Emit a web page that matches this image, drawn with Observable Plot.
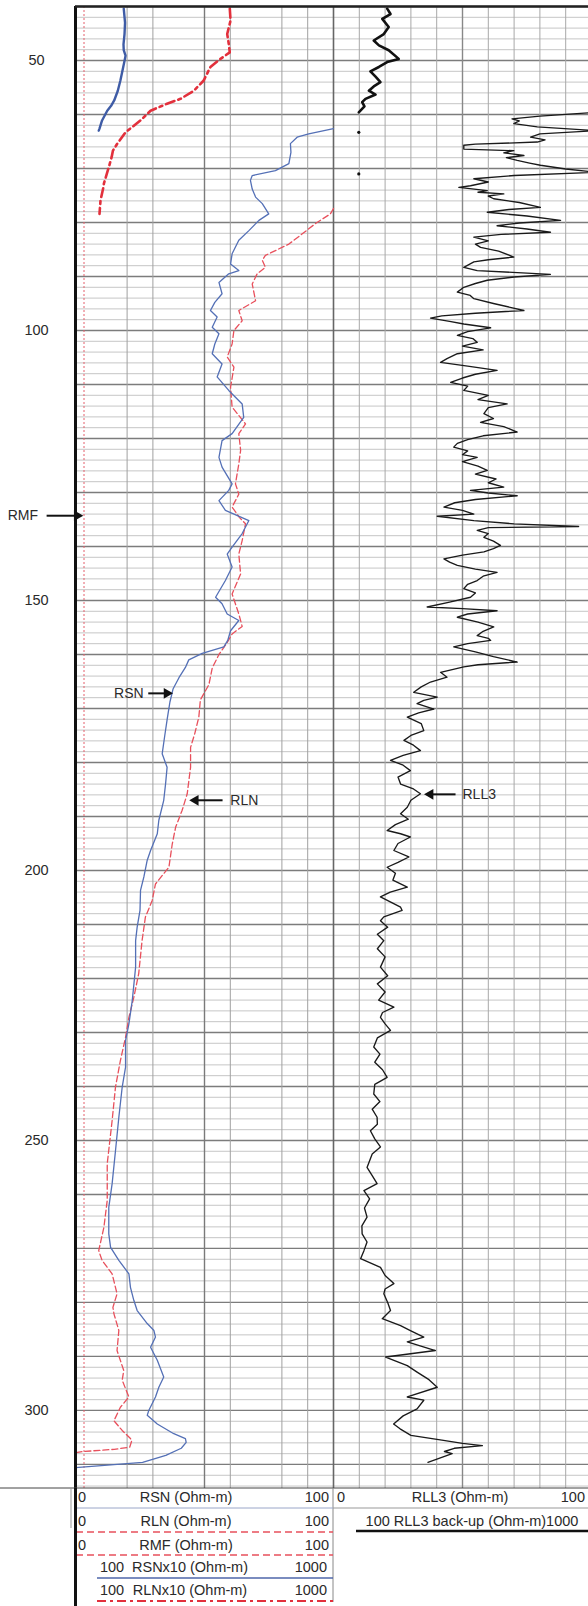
<!DOCTYPE html>
<html><head><meta charset="utf-8">
<script src="https://cdn.jsdelivr.net/npm/d3@7"></script>
<script src="https://cdn.jsdelivr.net/npm/@observablehq/plot@0.6"></script>
<style>
body{margin:0;background:#fff;font-family:"Liberation Sans",Arial,sans-serif;}
#wrap{position:relative;width:588px;height:1606px;overflow:hidden;background:#fff;}
#wrap svg.plot{position:absolute;left:0;top:0;}
.lg{position:absolute;font-size:14.5px;color:#2a2a2a;line-height:1;white-space:nowrap;}
</style></head><body><div id="wrap"></div>
<script>
// ---------- data ----------
const depthTicks = [50, 100, 150, 200, 250, 300];
const track1Grid = [20, 30, 50, 60, 80, 90];
const track2Grid = [10, 20, 30, 40, 50, 60, 70, 80, 90];
const rmfValue = 3.3;

// RSN (upper run, thick blue)
const rsnUpperDepth = [40.4,43,45.1,47,48.1,49.1,50.3,51.2,53.7,55.6,57.4,58.4,59.3,61.1,62.6,63.0];
const rsnUpperValue = [18.7,19.2,19.0,18.6,18.7,19.4,18.9,18.5,17.4,16.4,15.0,13.8,12.3,10.3,9.3,9.0];

// RLN x10 (upper run, dash-dot red)
const rlnUpperDepth = [40.4,42.6,45.1,46.9,48.5,49.7,51.2,53.7,55.6,57.1,58.0,59.3,61.1,63.3,65.4,66.7,67.9,69.8,70.4,72.8,73.5,75.9,78.4];
const rlnUpperValue = [59.8,60.1,58.8,59.4,59.8,56.2,52.3,49.7,45.9,40.7,35.5,29.1,25.2,19.4,16.2,14.5,14.0,12.9,12.5,11.0,10.8,9.7,9.3];

// RSN main (thin blue)
const rsnDepth = [62.6,63.6,64.2,65.4,67,69.1,70.4,71.3,72.2,73.8,75.3,76.5,78.4,79.6,81.5,83.3,85.8,87.7,88.9,89.5,91.1,93.2,94.8,96.3,97.5,99.4,100.6,102.5,104.3,106.2,108.6,111.1,113.6,116.1,119.1,120.4,123.5,125.3,128.4,129.6,131.5,133.3,135.2,137.6,140.1,141.4,143.8,146.3,149.4,150.6,152.5,153.7,155.6,157.4,158.6,159.8,161.0,162.4,164.3,166.4,168.8,171.8,175.0,178.4,180.9,184,187,190.7,193.2,196.3,198.1,201.2,203.7,207.4,210.5,213,217.9,224.1,228.4,231.5,236.4,240.1,245.7,251.9,258,262.4,267.3,269.8,272.2,274.7,277.2,279.6,281.5,283.9,285.2,286.4,288.3,290.7,293.8,295.7,297.5,300,300.9,302.5,304.3,305.2,305.9,307,308.3,309.6,310.2,310.6];
const rsnValue = [100,90.4,85.9,83.3,83.5,82.7,77.5,68.5,67.8,68.5,69.8,72.4,74.9,71.1,67.2,63.3,60.7,60.1,63.3,59.4,55.6,56.8,54,52.3,54.9,53.0,55.6,54.0,53.0,56.8,54.9,59.4,64.6,65.2,60.7,56.8,55.6,56.8,60.7,59.4,55.6,58.1,67.2,64.6,60.7,58.8,60.7,58.1,54.3,56.8,58.8,63.3,60.1,59.0,57.5,49.1,43.9,42.6,40.1,37.8,36.6,35.6,34.6,33.6,35.5,34.9,34.2,32.3,31.7,29.1,27.8,26.5,25.2,25.0,23.9,23.3,23.3,22.0,20.7,19.4,19.4,18.1,16.8,15.5,14.2,12.9,12.9,13.6,16.8,20.7,21.3,22.6,23.9,27.8,30.4,31.0,29.1,31.7,34.2,32.3,31.0,28.4,27.8,31.7,38.1,42.6,42.9,41,35,26,10,0];

// RLN main (thin dashed red)
const rlnDepth = [77.4,78.4,80.2,82.1,84,86.1,87.0,88.3,89.5,91.4,94.5,96.3,98.2,100,102.5,104.9,106.8,110.5,114.2,117.3,119.1,122.2,124.7,128.4,130.3,132.7,134.6,135.8,138.9,141.4,145.1,148.8,152.5,154.8,156.2,157.8,160.0,162.5,165.6,168.4,171.6,174.7,177.2,180.9,185.8,188.9,192,195.1,199.4,202.5,205.6,208.6,213,219.1,223.5,227.2,230.9,235.2,240.1,246.3,254.3,261.1,266.1,270.4,272.2,274.7,278.4,280.9,282.1,285.2,288.9,292.6,294.4,297.5,299.4,301.9,303.7,305.2,305.6,306.8,307.2,307.6,307.8];
const rlnValue = [100,98.8,93.0,87.9,82.7,73.6,72.4,73.6,70.4,68.5,69.8,63.3,64.6,61.4,60.7,58.8,61.4,60.1,60.7,65.9,63.3,64.0,63.3,62.0,63.3,60.7,63.5,65.9,64.6,63.3,64.0,60.7,63.3,64.6,60.7,58.8,55.6,53.0,51.7,48.4,47.8,46.2,44.6,44.6,43.3,41.3,38.8,37.5,36.2,31.0,29.7,27.1,25.8,24.5,22.6,20.7,19.4,17.4,15.5,14.2,12.3,12.3,11.0,9.0,10.3,14.2,16.1,14.5,14.9,16.8,16.1,18.7,18.1,20.7,17.4,14.9,18.1,21.3,21.8,21.0,15,3,0];

// RLL3 (upper run, thick black)
const rll3UpperDepth = [40.4,41.4,42.3,43.8,45.1,46.3,47.2,48.1,49.7,50.3,51.2,52.0,53.0,54.0,54.8,55.6,56.3,57.1,57.7,58.5,59.6];
const rll3UpperValue = [20.8,22.1,18.9,21.4,19.5,15.6,17.6,21.4,25.3,20.8,17.6,14.3,16.3,18.2,15.6,13.7,16.3,12.4,11.1,12.0,9.8];
const rll3DotDepth = [63.3, 71.0];
const rll3DotValue = [9.8, 9.8];

// RLL3 main (thin black)
const rll3Depth = [59.6,60.3,60.8,61.2,61.7,62.3,63.0,63.6,64.2,64.7,65.1,65.5,65.7,66.4,66.7,67.1,67.6,68.0,68.5,69.0,69.4,70.1,70.7,71.3,71.9,72.5,73.2,73.5,74.1,74.4,74.7,75.1,75.6,76.3,77.2,77.6,78.1,78.8,79.6,80.1,80.6,81.2,81.8,82.2,82.7,83.4,84.0,84.6,85.3,86.4,86.9,87.3,88.3,88.9,89.6,90.1,90.7,91.3,92.0,92.9,93.5,94.1,95.0,96.3,96.8,97.3,97.7,98.3,98.8,99.5,100.2,100.9,101.5,102.2,102.9,103.6,104.3,105.2,105.9,106.6,107.4,108.1,108.8,109.6,110.3,111.1,112.0,112.8,113.6,114.3,115.4,116.3,117.0,117.8,118.8,119.5,120.2,120.9,121.6,122.3,123.0,123.5,124.3,125.1,125.9,126.6,127.5,128.2,129.0,129.6,130.1,130.6,131.3,131.9,132.7,133.3,134.0,134.4,135.2,135.8,136.3,136.5,137.0,137.6,138.3,139.0,139.8,140.4,141.0,141.6,142.3,142.9,143.5,144.2,144.8,145.5,146.3,147.0,147.8,148.6,149.4,150.3,151.2,151.5,151.9,152.5,153.1,154.0,154.9,155.7,156.5,157.0,157.4,158.0,158.6,159.5,160.4,161.4,161.9,162.3,163.3,164.2,165.1,166.0,167.0,167.9,168.5,169.1,170.1,170.8,171.6,172.8,174.1,175.0,175.9,176.8,177.8,178.7,179.6,180.5,181.5,182.7,184.0,184.9,185.8,187.0,188.3,189.5,190.5,191.5,192.6,193.2,193.8,195.0,196.3,197.5,198.5,199.4,200.5,201.8,203.1,204.0,204.9,205.8,206.8,207.4,208.6,209.3,210.5,211.8,213.0,214.5,216.0,217.9,219.5,221.0,222.5,224.0,225.3,226.3,227.2,228.4,229.6,231.0,232.7,234.0,235.5,236.9,238.3,239.6,241.4,242.8,244.2,245.7,247.0,248.2,249.7,251.2,252.5,255.0,256.5,258.0,259.3,260.8,262.5,264.2,265.8,267.3,268.8,270.4,271.9,273.5,275.0,276.5,277.5,278.4,280.0,281.5,283.0,284.3,285.2,286.4,287.3,288.9,290.1,291.7,292.9,294.3,295.7,297.5,298.1,299.7,301.0,302.5,303.4,304.6,305.5,306.1,306.5,307.0,307.6,308.0,308.6,309.6];
const rll3Value = [102,80,69.2,72,69.9,79,102,80,76.4,82,79,55,50.5,50.5,69.9,66,73.8,67,71.2,76,80.2,90,102,70,54.4,60,53.1,48.6,59.6,56,66,60,62.1,72,80.2,68,59.6,75,88,72,63.4,75,84.1,65,54.4,60,55,57,64,69.9,60,54.4,50.5,55.7,84.1,70,59.6,55,50.5,48,53,54.4,62,73.8,55,42,37.6,45,50.5,60.9,52,48,54,55.7,50,58,48,44,41.5,52,63.4,55,50,45.4,52,50.5,60,56,67.3,60,58.3,62,57,66,71.2,58,52,48,46.6,52,50,55.7,50,56,59.6,55,63,60,66,53.1,60,71.2,55,47,42.8,50,54.4,40.2,54.4,70,95,60,55.7,60,58.3,62,64.7,62,58.3,50,42.8,45,48,55,63.4,58,55.7,52,50.5,55,53.1,45,36.3,50,63.4,52,48,56,62.1,58,55.7,60,60.9,52,46.6,55,62,71.2,56,50.5,41.5,44,37.6,34,31.1,40.2,35,32.4,38.9,33,28.6,34,35,30,27.3,31,33.7,27,22.1,27,29.8,25,26,31,33.7,30,28.6,26,29,24,20.8,26,29.8,25,23.4,29.2,25,20.8,24,23,28.6,22,18.2,22,26,26.6,19.5,18.2,21,17,19.5,17,20,18.2,21,17,20,17.5,23.4,19,18.2,20,22.1,17,15.6,18,16,19,20.8,16,15.6,18,15,16.9,17,14.3,16,18.2,15,13,15,16.9,11.8,14,12,13,11,11.1,13,11.8,10.5,18.2,20,23.4,20,19.5,21,22.1,18.9,26,29.8,35,28.6,39.5,20.2,28.6,32.4,37,40.2,28.6,35,32.4,27,23.3,25.8,30,42,50,57.7,46.8,43,46,42.5,36.6];

// annotations (labels at depth, in track units)
const annoLabels = ["RMF", "RSN", "RLN", "RLL3"];
const annoDepth = [134.3, 167.2, 187, 185.9];
const annoTextX = [-14.5, 26.4, 60, 150];
const annoTextAnchor = ["end", "end", "start", "start"];
const annoArrowFrom = [-11.2, 28.2, 57, 147.3];
const annoArrowTo = [0.6, 35.4, 46.5, 137.5];

// ---------- build ----------
const series = (depths, values, track) => depths.map((d, i) => ({depth: d, value: values[i], track}));
const xOf = d => (d.track === 2 ? 100 + d.value : d.value);

const rsnUpper = series(rsnUpperDepth, rsnUpperValue, 1);
const rlnUpper = series(rlnUpperDepth, rlnUpperValue, 1);
const rsn = series(rsnDepth, rsnValue, 1);
const rln = series(rlnDepth, rlnValue, 1);
const rll3Upper = series(rll3UpperDepth, rll3UpperValue, 2);
const rll3Dots = series(rll3DotDepth, rll3DotValue, 2);
const rll3 = series(rll3Depth, rll3Value, 2);
const annos = annoLabels.map((t, i) => ({t, depth: annoDepth[i], tx: annoTextX[i], anchor: annoTextAnchor[i], x1: annoArrowFrom[i], x2: annoArrowTo[i]}));

const plotBottom = 1488;
const chart = Plot.plot({
  width: 588, height: plotBottom,
  marginTop: 6, marginBottom: 0, marginLeft: 75, marginRight: 0,
  style: {fontFamily: '"Liberation Sans", Arial, sans-serif', background: "transparent", overflow: "visible"},
  x: {type: "linear", domain: [0, 200], range: [75, 591], axis: null},
  y: {type: "linear", domain: [40, 314.45], range: [6, plotBottom]},
  marks: [
    Plot.ruleY(d3.range(40, 314.5, 2), {y: d => d, stroke: "#c6c6c6", strokeWidth: 1}),
    Plot.ruleY(d3.range(40, 314.5, 10), {y: d => d, stroke: "#7c7c7c", strokeWidth: 1.3}),
    Plot.ruleX(track1Grid, {x: d => d, stroke: "#a0a0a0", strokeWidth: 1}),
    Plot.ruleX(track2Grid, {x: d => 100 + d, stroke: d => d === 50 ? "#888" : "#a8a8a8", strokeWidth: d => d === 50 ? 1.4 : 1}),
    Plot.ruleX([50], {x: d => d, stroke: "#7a7a7a", strokeWidth: 1.4}),
    Plot.ruleX([rmfValue], {x: d => d, stroke: "#e4606c", strokeWidth: 1, strokeDasharray: "2,2"}),
    Plot.ruleX([100], {x: d => d, stroke: "#666", strokeWidth: 1.6}),
    Plot.line(rlnUpper, {x: xOf, y: "depth", stroke: "#e2303c", strokeWidth: 2.6, strokeDasharray: "9,4,3,4"}),
    Plot.line(rsnUpper, {x: xOf, y: "depth", stroke: "#3f5ca6", strokeWidth: 2.4}),
    Plot.line(rln, {x: xOf, y: "depth", stroke: "#e8505c", strokeWidth: 1.3, strokeDasharray: "6,3"}),
    Plot.line(rsn, {x: xOf, y: "depth", stroke: "#5470b6", strokeWidth: 1.3}),
    Plot.line(rll3Upper, {x: xOf, y: "depth", stroke: "#111", strokeWidth: 2.6}),
    Plot.dot(rll3Dots, {x: xOf, y: "depth", r: 1.6, fill: "#111", stroke: null}),
    Plot.line(rll3, {x: xOf, y: "depth", stroke: "#1a1a1a", strokeWidth: 1.35}),
    Plot.ruleX([0], {x: d => d, stroke: "#111", strokeWidth: 3}),
    Plot.ruleY([40], {y: d => d, stroke: "#222", strokeWidth: 2.5}),
    Plot.axisY({ticks: depthTicks, anchor: "left", tickSize: 0, tickPadding: 39, textAnchor: "middle", fontSize: 14.5, fill: "#2a2a2a", label: null}),
    Plot.link(annos, {x1: "x1", x2: "x2", y1: "depth", y2: "depth", stroke: "#111", strokeWidth: 2}),
    Plot.dot(annos, {x: "x2", y: "depth", symbol: "triangle", r: 4, rotate: d => d.x2 > d.x1 ? 90 : -90, fill: "#111", stroke: null}),
    Plot.text(annos.filter(d => d.anchor === "end"), {x: "tx", y: "depth", text: "t", textAnchor: "end", fontSize: 14, fill: "#2a2a2a"}),
    Plot.text(annos.filter(d => d.anchor === "start"), {x: "tx", y: "depth", text: "t", textAnchor: "start", fontSize: 14, fill: "#2a2a2a"})
  ]
});
chart.classList.add("plot");
const wrap = document.getElementById("wrap");
wrap.appendChild(chart);

// ---------- legend below the plot ----------
const lsvg = d3.select(wrap).append("svg")
  .attr("width", 588).attr("height", 1606)
  .style("position", "absolute").style("left", 0).style("top", 0).style("pointer-events", "none");
const L = (x1, y1, x2, y2, stroke, w, dash) => lsvg.append("line")
  .attr("x1", x1).attr("y1", y1).attr("x2", x2).attr("y2", y2)
  .attr("stroke", stroke).attr("stroke-width", w).attr("stroke-dasharray", dash || null);
const b = plotBottom;
L(0, b, 588, b, "#444", 1);
L(71, b, 71, b + 40, "#999", 1);
L(333, b, 333, b + 114, "#888", 1);
L(76, b + 20, 333, b + 20, "#9aa6c8", 1);
L(333, b + 20, 588, b + 20, "#999", 1);
L(76, b + 44, 333, b + 44, "#e8505c", 1.5, "7,4");
L(356, b + 43, 588, b + 43, "#111", 2.6);
L(76, b + 67, 333, b + 67, "#e8505c", 1.5, "7,4");
L(97, b + 90, 333, b + 90, "#4e66aa", 1.6);
L(97, b + 113, 333, b + 113, "#e2303c", 2, "9,4,3,4");
L(75.5, b, 75.5, 1606, "#111", 3);

const legendRows = [
  [["0", 78, "start"], ["RSN (Ohm-m)", 186, "middle"], ["100", 329, "end"], ["0", 337, "start"], ["RLL3 (Ohm-m)", 460, "middle"], ["100", 585, "end"]],
  [["0", 78, "start"], ["RLN (Ohm-m)", 186, "middle"], ["100", 329, "end"], ["100 RLL3 back-up (Ohm-m)1000", 472, "middle"]],
  [["0", 78, "start"], ["RMF (Ohm-m)", 186, "middle"], ["100", 329, "end"]],
  [["100", 112, "middle"], ["RSNx10 (Ohm-m)", 190, "middle"], ["1000", 327, "end"]],
  [["100", 112, "middle"], ["RLNx10 (Ohm-m)", 190, "middle"], ["1000", 327, "end"]]
];
const rowOffsets = [9, 33, 57, 79, 102];
legendRows.forEach((row, r) => row.forEach(([t, x, a]) => {
  const el = document.createElement("div");
  el.className = "lg";
  el.textContent = t;
  el.style.left = x + "px";
  el.style.top = (b + rowOffsets[r]) + "px";
  const tx = a === "middle" ? "-50%" : a === "end" ? "-100%" : "0";
  el.style.transform = `translate(${tx}, -50%)`;
  wrap.appendChild(el);
}));
</script>
</body></html>
